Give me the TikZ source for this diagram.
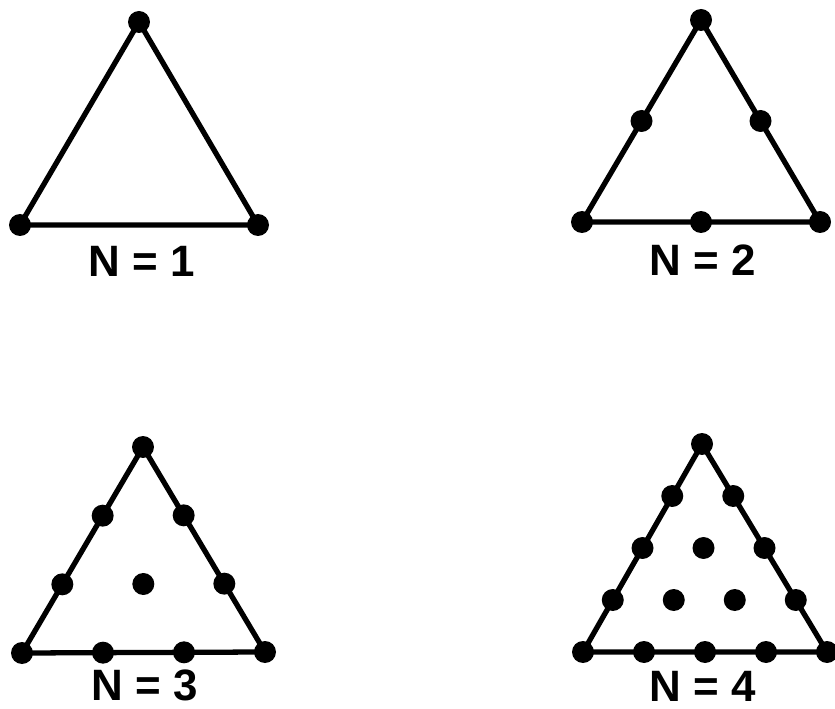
\documentclass[tikz,border=0pt]{standalone}
\usepackage{fontspec}
\setmainfont{Liberation Sans}
\begin{document}
\begin{tikzpicture}[
    x=0.02cm, y=-0.02cm,
    dot/.style={circle, fill=black, inner sep=0pt, minimum size=0.44cm},
    side/.style={line width=3pt, line join=round},
    lbl/.style={inner sep=0pt, font=\fontsize{25}{28}\selectfont\bfseries}
]
\useasboundingbox (0,0) rectangle (835,709);

% order / apex / left corner / right corner
\foreach \n/\ax/\ay/\lx/\ly/\rx/\ry in {1/139/22/20/225/258/225,
                                        2/701/20/582/222/820/222,
                                        3/143/447/22/653/265/652,
                                        4/702/444/583/652/827/652} {
  \coordinate (A\n) at (\ax,\ay);
  \coordinate (B\n) at (\lx,\ly);
  \coordinate (C\n) at (\rx,\ry);
  \draw[side] (A\n) -- (B\n) -- (C\n) -- cycle;
  \foreach \i in {0,...,\n} {
    \pgfmathtruncatemacro\jmax{\n-\i}
    \foreach \j in {0,...,\jmax}
      \node[dot] (P\n-\i-\j) at ({\ax+\i/\n*(\lx-\ax)+\j/\n*(\rx-\ax)},
                                 {\ay+\i/\n*(\ly-\ay)+\j/\n*(\ry-\ay)}) {};
  }
}

\node[lbl] (N1) at (142,261) {N = 1};
\node[lbl] (N2) at (703,260) {N = 2};
\node[lbl] (N3) at (145,685) {N = 3};
\node[lbl] (N4) at (703,686) {N = 4};

\end{tikzpicture}
\end{document}
